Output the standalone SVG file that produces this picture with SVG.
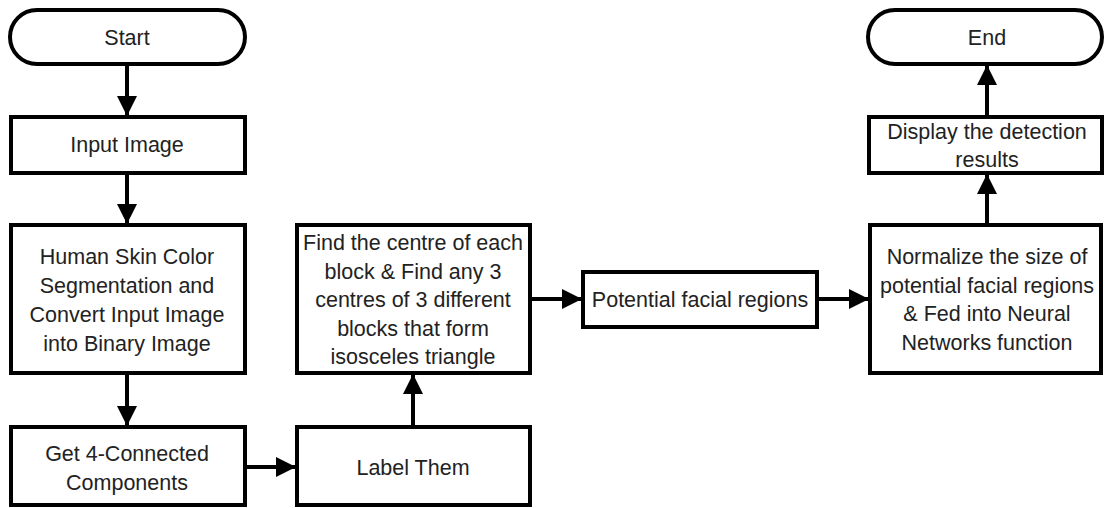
<svg xmlns="http://www.w3.org/2000/svg" width="1105" height="508" viewBox="0 0 1105 508">
<style>
.box{fill:#fff;stroke:#000;stroke-width:4}
.t{font-family:"Liberation Sans",Arial,sans-serif;font-size:21.5px;fill:#222;text-anchor:middle}
.c{stroke:#000;stroke-width:4;fill:none}
</style>
<defs>
<marker id="ah" markerUnits="userSpaceOnUse" markerWidth="20" markerHeight="20" viewBox="0 0 20 20" refX="19" refY="10" orient="auto">
<path d="M0,0 L20,10 L0,20 Z" fill="#000"/>
</marker>
</defs>
<rect width="1105" height="508" fill="#fff"/>
<g id="connectors">
<line class="c" x1="127" y1="64" x2="127" y2="115" marker-end="url(#ah)"/>
<line class="c" x1="127" y1="173" x2="127" y2="223" marker-end="url(#ah)"/>
<line class="c" x1="127" y1="373" x2="127" y2="425" marker-end="url(#ah)"/>
<line class="c" x1="245" y1="467" x2="295" y2="467" marker-end="url(#ah)"/>
<line class="c" x1="413" y1="427" x2="413" y2="375" marker-end="url(#ah)"/>
<line class="c" x1="530" y1="299" x2="581" y2="299" marker-end="url(#ah)"/>
<line class="c" x1="817" y1="299" x2="868" y2="299" marker-end="url(#ah)"/>
<line class="c" x1="987" y1="225" x2="987" y2="175" marker-end="url(#ah)"/>
<line class="c" x1="987" y1="117" x2="987" y2="66" marker-end="url(#ah)"/>
</g>
<g id="start">
<rect class="box" x="10" y="10" width="235" height="54" rx="27"/>
<text class="t" x="127" y="45">Start</text>
</g>
<g id="input">
<rect class="box" x="11" y="117" width="234" height="56"/>
<text class="t" x="127" y="152">Input Image</text>
</g>
<g id="skin">
<rect class="box" x="11" y="225" width="234" height="148"/>
<text class="t" x="127" y="264">Human Skin Color</text>
<text class="t" x="127" y="293">Segmentation and</text>
<text class="t" x="127" y="322">Convert Input Image</text>
<text class="t" x="127" y="351">into Binary Image</text>
</g>
<g id="connected">
<rect class="box" x="11" y="427" width="234" height="78"/>
<text class="t" x="127" y="461">Get 4-Connected</text>
<text class="t" x="127" y="490">Components</text>
</g>
<g id="label">
<rect class="box" x="297" y="427" width="233" height="78"/>
<text class="t" x="413" y="475">Label Them</text>
</g>
<g id="centre">
<rect class="box" x="297" y="225" width="233" height="148"/>
<text class="t" x="413" y="250">Find the centre of each</text>
<text class="t" x="413" y="278.5">block &amp; Find any 3</text>
<text class="t" x="413" y="307">centres of 3 different</text>
<text class="t" x="413" y="335.5">blocks that form</text>
<text class="t" x="413" y="364">isosceles triangle</text>
</g>
<g id="potential">
<rect class="box" x="583" y="272" width="234" height="55"/>
<text class="t" x="700" y="307">Potential facial regions</text>
</g>
<g id="normalize">
<rect class="box" x="870" y="225" width="231" height="148"/>
<text class="t" x="987" y="264">Normalize the size of</text>
<text class="t" x="987" y="293">potential facial regions</text>
<text class="t" x="987" y="321">&amp; Fed into Neural</text>
<text class="t" x="987" y="350">Networks function</text>
</g>
<g id="display">
<rect class="box" x="869" y="117" width="233" height="56"/>
<text class="t" x="987" y="139">Display the detection</text>
<text class="t" x="987" y="167">results</text>
</g>
<g id="end">
<rect class="box" x="868" y="10" width="234" height="54" rx="27"/>
<text class="t" x="987" y="45">End</text>
</g>
</svg>
